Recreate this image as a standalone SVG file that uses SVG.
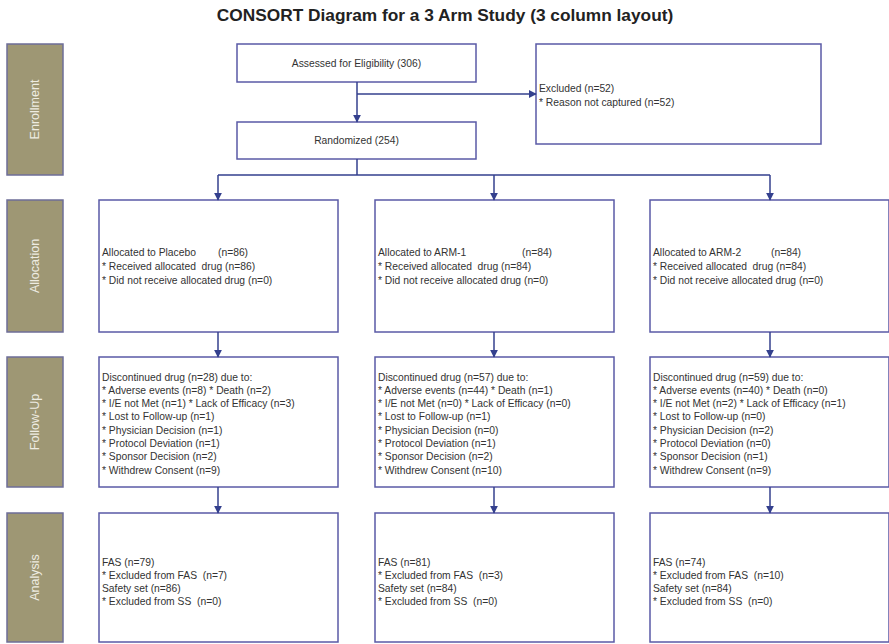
<svg xmlns="http://www.w3.org/2000/svg" width="889" height="644" viewBox="0 0 889 644">
<style>
.bg{fill:#ffffff}
.title{font-family:"Liberation Sans",Arial,sans-serif;font-weight:bold;font-size:17.3px;fill:#222;text-anchor:middle}
.lab rect{fill:#9e9774;stroke:#6e6e98;stroke-width:1.5}
.lab text{font-family:"Liberation Sans",Arial,sans-serif;font-size:12.5px;fill:#eeece2;text-anchor:middle}
.box rect{fill:#ffffff;stroke:#5a5aa6;stroke-width:1.5}
.box text{font-family:"Liberation Sans",Arial,sans-serif;font-size:10.3px;fill:#333;white-space:pre}
.c{text-anchor:middle}
.conn path{fill:none;stroke:#34408e;stroke-width:1.5}
</style>
<defs>
<marker id="ah" viewBox="0 0 10 10" refX="9" refY="5" markerWidth="8" markerHeight="8" markerUnits="userSpaceOnUse" orient="auto">
<path d="M0,0 L10,5 L0,10 Z" fill="#34408e"/>
</marker>
</defs>
<rect class="bg" x="0" y="0" width="889" height="644"/>
<text class="title" x="445" y="21">CONSORT Diagram for a 3 Arm Study (3 column layout)</text>

<g id="label-enrollment" class="lab"><rect x="7" y="44" width="56" height="131"/><text transform="translate(39,109.5) rotate(-90)">Enrollment</text></g>
<g id="label-allocation" class="lab"><rect x="7" y="200" width="56" height="132"/><text transform="translate(39,266) rotate(-90)">Allocation</text></g>
<g id="label-followup" class="lab"><rect x="7" y="357" width="56" height="130"/><text transform="translate(39,422) rotate(-90)">Follow-Up</text></g>
<g id="label-analysis" class="lab"><rect x="7" y="513" width="56" height="129"/><text transform="translate(39,577.5) rotate(-90)">Analysis</text></g>

<g id="assessed" class="box"><rect x="237" y="44" width="239" height="38"/><text class="c" x="356.5" y="66.5">Assessed for Eligibility (306)</text></g>
<g id="excluded" class="box"><rect x="536" y="44" width="285" height="100"/>
<text x="539" y="92">Excluded (n=52)</text>
<text x="539" y="105.5">* Reason not captured (n=52)</text></g>
<g id="randomized" class="box"><rect x="237" y="122" width="239" height="37"/><text class="c" x="356.5" y="144">Randomized (254)</text></g>

<g id="alloc-placebo" class="box"><rect x="99" y="200" width="239" height="132"/>
<text x="102" y="256">Allocated to Placebo<tspan x="218">(n=86)</tspan></text>
<text x="102" y="270">* Received allocated  drug (n=86)</text>
<text x="102" y="284">* Did not receive allocated drug (n=0)</text></g>
<g id="alloc-arm1" class="box"><rect x="375" y="200" width="239" height="132"/>
<text x="378" y="256">Allocated to ARM-1<tspan x="522">(n=84)</tspan></text>
<text x="378" y="270">* Received allocated  drug (n=84)</text>
<text x="378" y="284">* Did not receive allocated drug (n=0)</text></g>
<g id="alloc-arm2" class="box"><rect x="650" y="200" width="239" height="132"/>
<text x="653" y="256">Allocated to ARM-2<tspan x="771">(n=84)</tspan></text>
<text x="653" y="270">* Received allocated  drug (n=84)</text>
<text x="653" y="284">* Did not receive allocated drug (n=0)</text></g>

<g id="fu-placebo" class="box"><rect x="99" y="357" width="239" height="130"/>
<text x="102" y="380.5">Discontinued drug (n=28) due to:</text>
<text x="102" y="393.8">* Adverse events (n=8) * Death (n=2)</text>
<text x="102" y="407.1">* I/E not Met (n=1) * Lack of Efficacy (n=3)</text>
<text x="102" y="420.4">* Lost to Follow-up (n=1)</text>
<text x="102" y="433.7">* Physician Decision (n=1)</text>
<text x="102" y="447">* Protocol Deviation (n=1)</text>
<text x="102" y="460.3">* Sponsor Decision (n=2)</text>
<text x="102" y="473.6">* Withdrew Consent (n=9)</text></g>
<g id="fu-arm1" class="box"><rect x="375" y="357" width="239" height="130"/>
<text x="378" y="380.5">Discontinued drug (n=57) due to:</text>
<text x="378" y="393.8">* Adverse events (n=44) * Death (n=1)</text>
<text x="378" y="407.1">* I/E not Met (n=0) * Lack of Efficacy (n=0)</text>
<text x="378" y="420.4">* Lost to Follow-up (n=1)</text>
<text x="378" y="433.7">* Physician Decision (n=0)</text>
<text x="378" y="447">* Protocol Deviation (n=1)</text>
<text x="378" y="460.3">* Sponsor Decision (n=2)</text>
<text x="378" y="473.6">* Withdrew Consent (n=10)</text></g>
<g id="fu-arm2" class="box"><rect x="650" y="357" width="239" height="130"/>
<text x="653" y="380.5">Discontinued drug (n=59) due to:</text>
<text x="653" y="393.8">* Adverse events (n=40) * Death (n=0)</text>
<text x="653" y="407.1">* I/E not Met (n=2) * Lack of Efficacy (n=1)</text>
<text x="653" y="420.4">* Lost to Follow-up (n=0)</text>
<text x="653" y="433.7">* Physician Decision (n=2)</text>
<text x="653" y="447">* Protocol Deviation (n=0)</text>
<text x="653" y="460.3">* Sponsor Decision (n=1)</text>
<text x="653" y="473.6">* Withdrew Consent (n=9)</text></g>

<g id="an-placebo" class="box"><rect x="99" y="513" width="239" height="129"/>
<text x="102" y="566">FAS (n=79)</text>
<text x="102" y="579">* Excluded from FAS  (n=7)</text>
<text x="102" y="592">Safety set (n=86)</text>
<text x="102" y="605">* Excluded from SS  (n=0)</text></g>
<g id="an-arm1" class="box"><rect x="375" y="513" width="239" height="129"/>
<text x="378" y="566">FAS (n=81)</text>
<text x="378" y="579">* Excluded from FAS  (n=3)</text>
<text x="378" y="592">Safety set (n=84)</text>
<text x="378" y="605">* Excluded from SS  (n=0)</text></g>
<g id="an-arm2" class="box"><rect x="650" y="513" width="239" height="129"/>
<text x="653" y="566">FAS (n=74)</text>
<text x="653" y="579">* Excluded from FAS  (n=10)</text>
<text x="653" y="592">Safety set (n=84)</text>
<text x="653" y="605">* Excluded from SS  (n=0)</text></g>

<g id="connectors" class="conn">
<path d="M357,82 V122" marker-end="url(#ah)"/>
<path d="M357,94 H536" marker-end="url(#ah)"/>
<path d="M357,159 V175 M218,175 H770"/>
<path d="M218,175 V200" marker-end="url(#ah)"/>
<path d="M494,175 V200" marker-end="url(#ah)"/>
<path d="M770,175 V200" marker-end="url(#ah)"/>
<path d="M218,332 V357" marker-end="url(#ah)"/>
<path d="M494,332 V357" marker-end="url(#ah)"/>
<path d="M770,332 V357" marker-end="url(#ah)"/>
<path d="M218,487 V513" marker-end="url(#ah)"/>
<path d="M494,487 V513" marker-end="url(#ah)"/>
<path d="M770,487 V513" marker-end="url(#ah)"/>
</g>
</svg>
